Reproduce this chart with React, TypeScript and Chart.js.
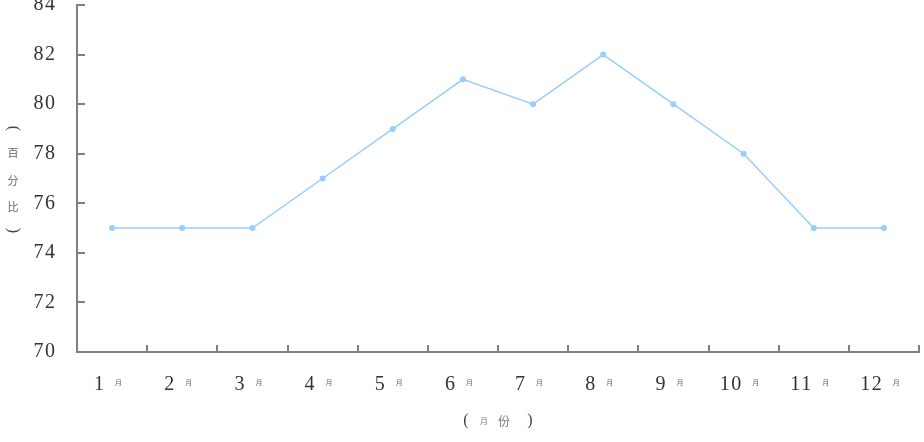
import React, { useEffect, useRef } from "react";
import { Chart, registerables } from "chart.js";

Chart.register(...registerables);

const monthNums = ["1", "2", "3", "4", "5", "6", "7", "8", "9", "10", "11", "12"];
const monthSuffix = "月";
const categories = monthNums.map((m) => m + monthSuffix);
const values = [75, 75, 75, 77, 79, 81, 80, 82, 80, 78, 75, 75];
const yMin = 70;
const yMax = 84;
const yStep = 2;
const xTitleParts = ["(", "月", "份", ")"];
const yTitleParts = ["(", "百", "分", "比", ")"];

const AXIS = "#808080";
const LINE = "#99CCFF";
const TEXT = "#333333";
const SPACING = 1.5;

const decorPlugin = {
  id: "decor",
  beforeDraw(chart: any) {
    (chart.ctx as any).letterSpacing = SPACING + "px";
  },
  afterDraw(chart: any) {
    const ctx = chart.ctx as CanvasRenderingContext2D;
    const xs = chart.scales.x;
    const ys = chart.scales.y;
    const area = chart.chartArea;
    ctx.save();
    (ctx as any).letterSpacing = "0px";
    // inward tick marks
    ctx.strokeStyle = AXIS;
    ctx.lineWidth = 2;
    ys.ticks.forEach((t: any) => {
      const y = Math.round(ys.getPixelForValue(t.value));
      ctx.beginPath();
      ctx.moveTo(area.left, y);
      ctx.lineTo(area.left + 8, y);
      ctx.stroke();
    });
    for (let i = 0; i < categories.length; i++) {
      const x = Math.round(xs.getPixelForValue(i + 0.5));
      ctx.beginPath();
      ctx.moveTo(x, area.bottom);
      ctx.lineTo(x, area.bottom - 7);
      ctx.stroke();
    }
    // x labels: number + small suffix glyph
    const labelY = area.bottom + 33;
    for (let i = 0; i < categories.length; i++) {
      const cx = xs.getPixelForValue(i);
      (ctx as any).letterSpacing = SPACING + "px";
      ctx.font = "20px 'Liberation Serif', serif";
      const num = monthNums[i];
      const dw = ctx.measureText(num).width - SPACING;
      const total = dw + 11 + 5;
      const start = cx - total / 2 - 5;
      ctx.fillStyle = TEXT;
      ctx.textAlign = "left";
      ctx.textBaseline = "middle";
      ctx.fillText(num, start, labelY);
      (ctx as any).letterSpacing = "0px";
      ctx.font = "7px 'Noto Sans CJK SC', sans-serif";
      ctx.fillStyle = "#666666";
      ctx.fillText(monthSuffix, start + dw + 11, labelY - 3);
    }
    // x title
    const mid = (area.left + area.right) / 2;
    const ty = area.bottom + 69;
    ctx.textAlign = "center";
    ctx.textBaseline = "middle";
    const xOffsets = [-32, -14, 6, 32];
    const xSizes = [16, 8, 12, 16];
    xTitleParts.forEach((p, i) => {
      const isBracket = p === "(" || p === ")";
      ctx.font = isBracket
        ? `${xSizes[i]}px 'Liberation Serif', serif`
        : `${xSizes[i]}px 'Noto Sans CJK SC', sans-serif`;
      ctx.fillStyle = isBracket ? "#444444" : "#777777";
      ctx.fillText(p, mid + xOffsets[i], ty);
    });
    // y title, vertical stacked characters (brackets turned to vertical form)
    const midY = (area.top + area.bottom) / 2;
    const yOffsets = [-50, -26, 2, 28, 52];
    yTitleParts.forEach((p, i) => {
      const isBracket = i === 0 || i === yTitleParts.length - 1;
      if (isBracket) {
        ctx.save();
        ctx.translate(13, midY + yOffsets[i]);
        ctx.rotate(Math.PI / 2);
        ctx.font = "16px 'Liberation Serif', serif";
        ctx.fillStyle = "#444444";
        ctx.fillText(p, 0, 0);
        ctx.restore();
      } else {
        ctx.font = "11px 'Noto Sans CJK SC', sans-serif";
        ctx.fillStyle = "#666666";
        ctx.fillText(p, 13, midY + yOffsets[i]);
      }
    });
    ctx.restore();
  },
};

export default function App() {
  const ref = useRef<HTMLCanvasElement | null>(null);
  useEffect(() => {
    document.body.style.margin = "0";
    const canvas = ref.current!;
    const chart = new Chart(canvas, {
      type: "line",
      data: {
        labels: categories,
        datasets: [
          {
            data: values,
            borderColor: LINE,
            backgroundColor: LINE,
            borderWidth: 1.5,
            pointRadius: 3,
            pointBackgroundColor: LINE,
            pointBorderColor: LINE,
            pointBorderWidth: 0,
            tension: 0,
          },
        ],
      },
      options: {
        responsive: false,
        animation: false,
        layout: { padding: { left: 0, top: 5, right: 5, bottom: 90 } },
        plugins: {
          legend: { display: false },
          tooltip: { enabled: false },
          title: { display: false },
        },
        scales: {
          x: {
            offset: true,
            grid: { display: false, drawTicks: false },
            border: { display: true, color: AXIS, width: 2 },
            ticks: { display: false },
            afterFit: (s: any) => {
              s.height = 0;
              s.paddingLeft = 0;
              s.paddingRight = 0;
            },
          },
          y: {
            min: yMin,
            max: yMax,
            grid: { display: false, drawTicks: false },
            border: { display: true, color: AXIS, width: 2 },
            ticks: {
              stepSize: yStep,
              padding: 20.5,
              color: TEXT,
              font: { family: "'Liberation Serif', serif", size: 20 },
            },
            afterFit: (s: any) => {
              s.width = 77;
              s.paddingTop = 0;
              s.paddingBottom = 0;
            },
          },
        },
      },
      plugins: [decorPlugin],
    });
    return () => chart.destroy();
  }, []);
  return (
    <div style={{ width: 924, height: 442, background: "#fff" }}>
      <canvas ref={ref} width={924} height={442} />
    </div>
  );
}
